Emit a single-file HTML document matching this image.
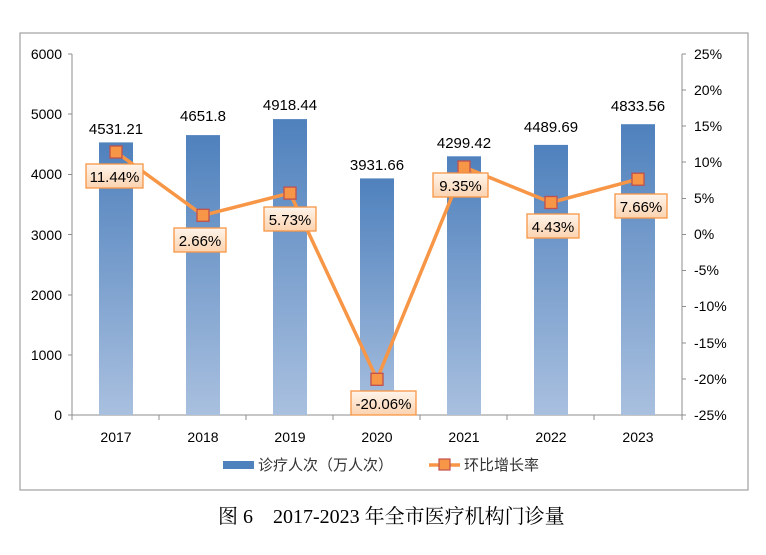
<!DOCTYPE html>
<html><head><meta charset="utf-8"><style>
body{margin:0;background:#fff;width:766px;height:550px;overflow:hidden}
text{font-family:"Liberation Sans","Noto Sans CJK SC",sans-serif}
</style></head><body>
<svg width="766" height="550" xmlns="http://www.w3.org/2000/svg">
<defs>
<linearGradient id="bg" x1="0" y1="0" x2="0" y2="1"><stop offset="0" stop-color="#4f81bd"/><stop offset="1" stop-color="#a9c0df"/></linearGradient>
<linearGradient id="lb" x1="0" y1="0" x2="0" y2="1"><stop offset="0" stop-color="#fff4ea"/><stop offset="1" stop-color="#fbd3b0"/></linearGradient>
</defs>
<rect x="20" y="33" width="728" height="457" fill="#fff" stroke="#8c8c8c" stroke-width="1"/>
<g stroke="#8c8c8c" stroke-width="1">
<line x1="72" y1="54" x2="72" y2="415"/><line x1="682" y1="54" x2="682" y2="415"/>
<line x1="72" y1="415" x2="682" y2="415"/>
<line x1="68" y1="54" x2="72" y2="54"/><line x1="68" y1="114" x2="72" y2="114"/><line x1="68" y1="174.5" x2="72" y2="174.5"/><line x1="68" y1="234.5" x2="72" y2="234.5"/><line x1="68" y1="295" x2="72" y2="295"/><line x1="68" y1="355" x2="72" y2="355"/><line x1="68" y1="415" x2="72" y2="415"/>
<line x1="682" y1="54" x2="686" y2="54"/><line x1="682" y1="90" x2="686" y2="90"/><line x1="682" y1="126" x2="686" y2="126"/><line x1="682" y1="162" x2="686" y2="162"/><line x1="682" y1="198.5" x2="686" y2="198.5"/><line x1="682" y1="234.5" x2="686" y2="234.5"/><line x1="682" y1="270.5" x2="686" y2="270.5"/><line x1="682" y1="306.5" x2="686" y2="306.5"/><line x1="682" y1="343" x2="686" y2="343"/><line x1="682" y1="379" x2="686" y2="379"/><line x1="682" y1="415" x2="686" y2="415"/>
<line x1="159" y1="415" x2="159" y2="420"/><line x1="246" y1="415" x2="246" y2="420"/><line x1="333" y1="415" x2="333" y2="420"/><line x1="420" y1="415" x2="420" y2="420"/><line x1="507" y1="415" x2="507" y2="420"/><line x1="594" y1="415" x2="594" y2="420"/><line x1="72" y1="415" x2="72" y2="420"/><line x1="682" y1="415" x2="682" y2="420"/>
</g>
<g font-size="14" fill="#000" text-anchor="end">
<text x="62" y="59">6000</text><text x="62" y="119">5000</text><text x="62" y="179">4000</text><text x="62" y="240">3000</text><text x="62" y="300">2000</text><text x="62" y="360">1000</text><text x="62" y="420">0</text>
</g>
<g font-size="14" fill="#000" text-anchor="start">
<text x="694" y="59">25%</text><text x="694" y="95">20%</text><text x="694" y="131">15%</text><text x="694" y="167">10%</text><text x="694" y="203">5%</text><text x="694" y="239">0%</text><text x="694" y="275">-5%</text><text x="694" y="311">-10%</text><text x="694" y="348">-15%</text><text x="694" y="384">-20%</text><text x="694" y="420">-25%</text>
</g>
<g fill="url(#bg)">
<rect x="99" y="142.4" width="34" height="272.6"/><rect x="186" y="135.1" width="34" height="279.9"/><rect x="273" y="119.1" width="34" height="295.9"/><rect x="360" y="178.4" width="34" height="236.6"/><rect x="447" y="156.3" width="34" height="258.7"/><rect x="534" y="144.9" width="34" height="270.1"/><rect x="621" y="124.2" width="34" height="290.8"/>
</g>
<g font-size="15" fill="#000" text-anchor="middle">
<text x="116" y="134">4531.21</text><text x="203" y="121">4651.8</text><text x="290" y="110">4918.44</text><text x="377" y="170">3931.66</text><text x="464" y="148">4299.42</text><text x="551" y="132">4489.69</text><text x="638" y="111">4833.56</text>
</g>
<g font-size="14" fill="#000" text-anchor="middle">
<text x="116" y="442">2017</text><text x="203" y="442">2018</text><text x="290" y="442">2019</text><text x="377" y="442">2020</text><text x="464" y="442">2021</text><text x="551" y="442">2022</text><text x="638" y="442">2023</text>
</g>
<polyline points="116,152 203,215.3 290,193.1 377,379.3 464,167 551,202.5 638,179.2" fill="none" stroke="#f79646" stroke-width="3.5" stroke-linejoin="round"/>
<g fill="#f79646" stroke="#c0504d" stroke-width="1.3">
<rect x="110" y="146" width="12" height="12"/><rect x="197" y="209.3" width="12" height="12"/><rect x="284" y="187.1" width="12" height="12"/><rect x="371" y="373.3" width="12" height="12"/><rect x="458" y="161" width="12" height="12"/><rect x="545" y="196.5" width="12" height="12"/><rect x="632" y="173.2" width="12" height="12"/>
</g>
<g fill="url(#lb)" stroke="#f79646" stroke-width="1.3">
<rect x="86" y="164" width="57" height="24"/><rect x="174" y="228" width="52" height="24"/><rect x="264" y="207" width="52" height="24"/><rect x="351" y="391" width="65" height="24"/><rect x="433" y="173" width="55" height="24"/><rect x="527" y="214" width="52" height="24"/><rect x="615" y="194" width="52" height="24"/>
</g>
<g font-size="15" fill="#000" text-anchor="middle">
<text x="114.5" y="182">11.44%</text><text x="200" y="246">2.66%</text><text x="290" y="225">5.73%</text><text x="383.5" y="409">-20.06%</text><text x="460.5" y="191">9.35%</text><text x="553" y="232">4.43%</text><text x="641" y="212">7.66%</text>
</g>
<rect x="223" y="461" width="31" height="8" fill="#4f81bd"/>
<text x="258" y="470" font-size="15" fill="#333">诊疗人次（万人次）</text>
<line x1="429" y1="465" x2="460" y2="465" stroke="#f79646" stroke-width="3.5"/>
<rect x="439" y="459" width="11" height="11" fill="#f79646" stroke="#c0504d" stroke-width="1.2"/>
<text x="464" y="470" font-size="15" fill="#333">环比增长率</text>
<text x="218" y="523" font-size="20" fill="#000" style='font-family:"Liberation Serif","Noto Serif CJK SC",serif'>图 6　2017-2023 年全市医疗机构门诊量</text>
</svg>
</body></html>
